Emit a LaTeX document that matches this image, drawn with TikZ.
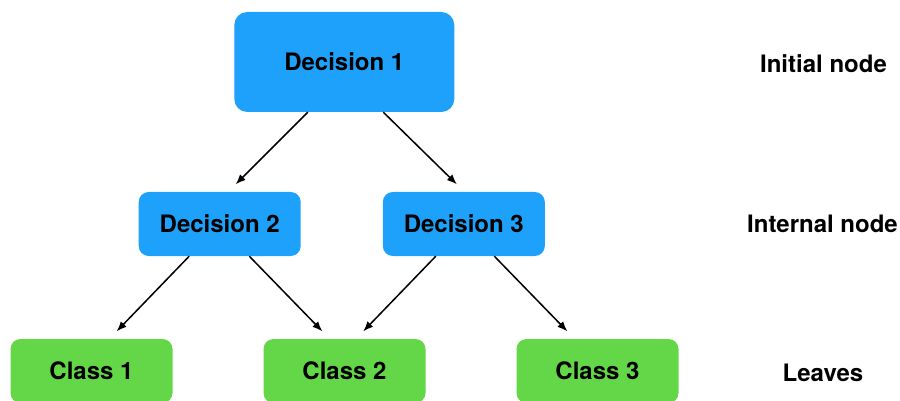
\documentclass[tikz,border=0pt]{standalone}
\usepackage{fontspec}
\setmainfont{TeX Gyre Heros}
\usetikzlibrary{arrows.meta}

\definecolor{decblue}{RGB}{29,161,250}
\definecolor{leafgreen}{RGB}{99,215,72}

\tikzset{
  decision/.style={fill=decblue, rounded corners=10pt, inner sep=0pt,
    minimum width=162pt, minimum height=64pt},
  leaf/.style={fill=leafgreen, rounded corners=10pt, inner sep=0pt,
    minimum width=162pt, minimum height=64pt},
  level/.style={inner sep=0pt},
  edge/.style={-{Latex[length=10pt,width=8pt]}, line width=1.5pt}
}

\begin{document}
\begin{tikzpicture}
  [x=1pt, y=-1pt, font=\fontsize{24}{28}\selectfont\bfseries]
  \useasboundingbox (0,0) rectangle (900,401);

  \node[decision, minimum width=220pt, minimum height=100pt, rounded corners=13pt] (d1) at (344.3, 62) {Decision 1};
  \node[decision] (d2) at (219.7, 224) {Decision 2};
  \node[decision] (d3) at (463.8, 224) {Decision 3};
  \node[leaf] (c1) at (91.5, 371) {Class 1};
  \node[leaf] (c2) at (344.5, 371) {Class 2};
  \node[leaf] (c3) at (597.5, 371) {Class 3};

  \node[level] (l1) at (823.5, 64) {Initial node};
  \node[level] (l2) at (822.5, 224) {Internal node};
  \node[level] (l3) at (823, 373) {Leaves};

  \foreach \from/\fx/\to/\tx in {d1/-36.5/d2/16, d1/39/d3/-7, d2/-30.5/c1/25.2,
    d2/29.6/c2/-22.2, d3/-28/c2/18.8, d3/30.5/c3/-30.2}
  \draw[edge] ([xshift=\fx pt]\from.south) -- ([xshift=\tx pt, yshift=7.5pt]\to.north);

\end{tikzpicture}
\end{document}
